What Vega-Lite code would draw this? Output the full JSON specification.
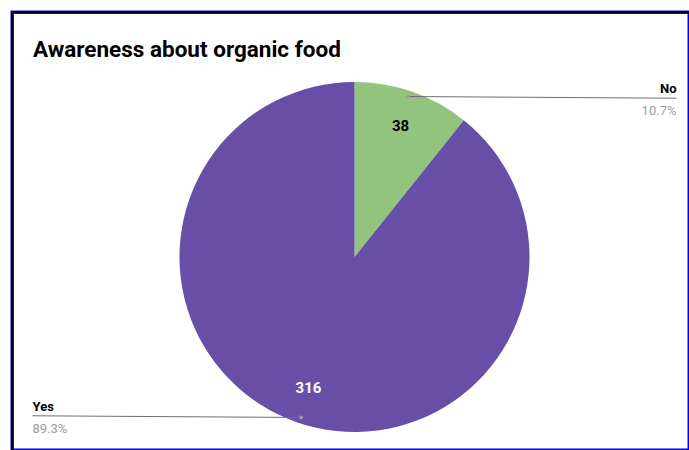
{
  "$schema": "https://vega.github.io/schema/vega-lite/v6.json",
  "width": 677,
  "height": 438,
  "autosize": {"type": "none"},
  "padding": {"left": 12, "top": 12, "right": 0, "bottom": 0},
  "background": "white",
  "config": {"view": {"stroke": "#0000ff", "strokeWidth": 3}, "axis": {"domainColor": "#ff0000", "domainWidth": 3}, "font": "Roboto"},
  "title": {"text": "Awareness about organic food", "anchor": "start", "frame": "group", "orient": "top", "offset": -67, "dx": 21, "fontSize": 22.5, "fontWeight": "bold", "font": "Roboto", "color": "#000000", "baseline": "alphabetic"},
  "data": {"values": [{"category": "No", "count": 38}, {"category": "Yes", "count": 316}]},
  "transform": [
    {"joinaggregate": [{"op": "sum", "field": "count", "as": "total"}]},
    {"window": [{"op": "sum", "field": "count", "as": "cum"}], "sort": [{"field": "category", "order": "ascending"}], "frame": [null, 0]},
    {"calculate": "2*PI*(datum.cum - datum.count/2)/datum.total", "as": "mid"},
    {"calculate": "0.95*sin(datum.mid)", "as": "px"},
    {"calculate": "0.95*cos(datum.mid)", "as": "py"},
    {"calculate": "datum.px > 0 ? 1.894 : -1.894", "as": "lx"},
    {"calculate": "0.94*cos(datum.mid)", "as": "ly"},
    {"calculate": "format(datum.count/datum.total, '.1%')", "as": "pct"}
  ],
  "layer": [
    {
      "mark": {"type": "arc", "outerRadius": 175},
      "encoding": {
        "x": {"datum": 0, "type": "quantitative", "scale": {"domain": [-2.0147, 1.9676], "nice": false, "zero": false}, "axis": {"orient": "top", "domain": true, "domainColor": "#000000", "domainWidth": 2.5, "ticks": false, "labels": false, "grid": false, "title": null}},
        "y": {"datum": 0, "type": "quantitative", "scale": {"domain": [-1.0782, 1.3687], "nice": false, "zero": false}, "axis": {"orient": "left", "domain": true, "domainColor": "#000000", "domainWidth": 2.5, "ticks": false, "labels": false, "grid": false, "title": null}},
        "theta": {"field": "count", "type": "quantitative", "stack": true},
        "color": {"field": "category", "type": "nominal", "scale": {"domain": ["No", "Yes"], "range": ["#93c47d", "#674ea7"]}, "legend": null},
        "order": {"field": "category", "type": "ordinal", "sort": "ascending"}
      }
    },
    {
      "mark": {"type": "text", "radius": 139, "fontSize": 15, "fontWeight": "bold", "font": "Roboto"},
      "encoding": {
        "x": {"datum": 0, "type": "quantitative"},
        "y": {"datum": 0, "type": "quantitative"},
        "theta": {"field": "count", "type": "quantitative", "stack": true},
        "order": {"field": "category", "type": "ordinal", "sort": "ascending"},
        "text": {"field": "count", "type": "quantitative"},
        "color": {"condition": {"test": "datum.category === 'Yes'", "value": "#ffffff"}, "value": "#000000"}
      }
    },
    {
      "mark": {"type": "rule", "color": "#6f6f6f", "strokeWidth": 1},
      "encoding": {
        "x": {"field": "px", "type": "quantitative"},
        "x2": {"field": "lx"},
        "y": {"field": "py", "type": "quantitative"},
        "y2": {"field": "ly"}
      }
    },
    {
      "mark": {"type": "circle", "size": 14, "color": "#9e9e9e", "opacity": 1},
      "encoding": {
        "x": {"field": "px", "type": "quantitative"},
        "y": {"field": "py", "type": "quantitative"}
      }
    },
    {
      "mark": {"type": "text", "fontSize": 13, "fontWeight": "bold", "font": "Roboto", "color": "#000000", "dy": -5, "baseline": "alphabetic", "align": {"expr": "datum.lx > 0 ? 'right' : 'left'"}},
      "encoding": {
        "x": {"field": "lx", "type": "quantitative"},
        "y": {"field": "ly", "type": "quantitative"},
        "text": {"field": "category", "type": "nominal"}
      }
    },
    {
      "mark": {"type": "text", "fontSize": 13, "font": "Roboto", "color": "#9e9e9e", "dy": 17, "baseline": "alphabetic", "align": {"expr": "datum.lx > 0 ? 'right' : 'left'"}},
      "encoding": {
        "x": {"field": "lx", "type": "quantitative"},
        "y": {"field": "ly", "type": "quantitative"},
        "text": {"field": "pct", "type": "nominal"}
      }
    }
  ]
}
